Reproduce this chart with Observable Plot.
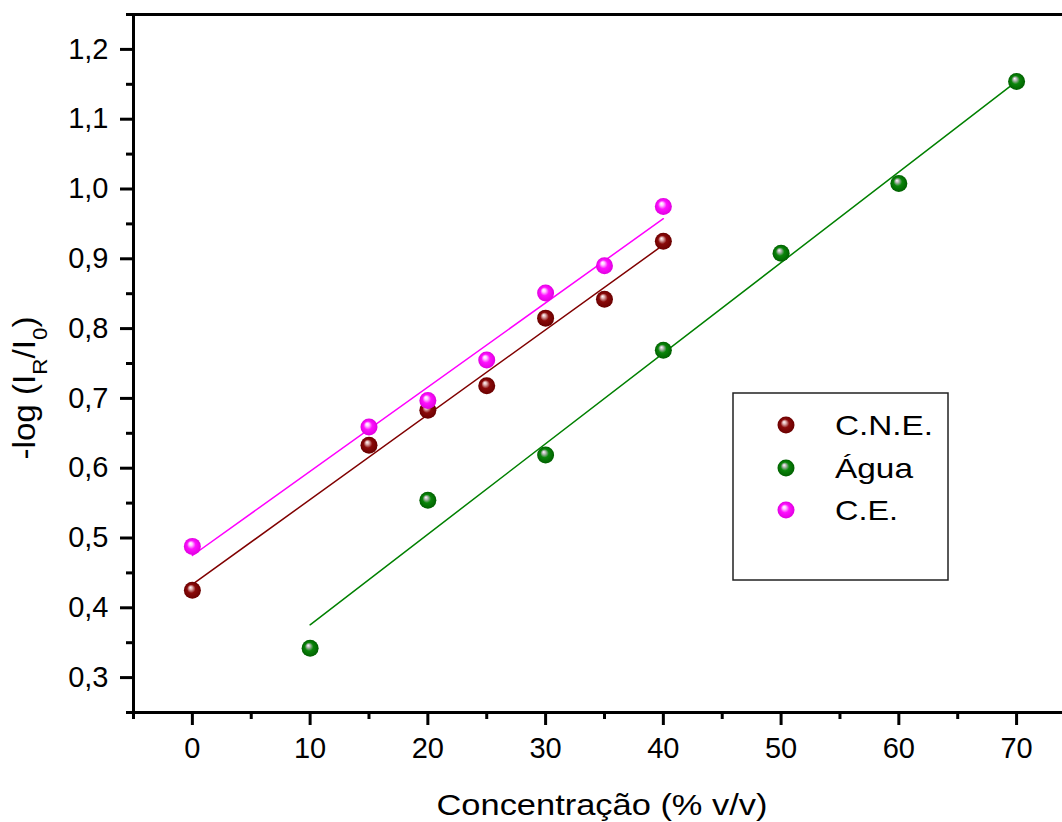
<!DOCTYPE html>
<html>
<head>
<meta charset="utf-8">
<script src="https://cdn.jsdelivr.net/npm/d3@7"></script>
<script src="https://cdn.jsdelivr.net/npm/@observablehq/plot@0.6"></script>
<style>
  html, body { margin: 0; padding: 0; background: #ffffff; }
  svg { display: block; }
</style>
</head>
<body>
<div id="chart"></div>
<script>
// ---- data ----
const seriesNames = ["C.N.E.", "Água", "C.E."];
const seriesColors = ["#800000", "#008000", "#ff00ff"];

const concCNE = [0, 15, 20, 25, 30, 35, 40];
const valCNE  = [0.425, 0.633, 0.683, 0.718, 0.815, 0.842, 0.925];

const concAgua = [10, 20, 30, 40, 50, 60, 70];
const valAgua  = [0.342, 0.554, 0.619, 0.769, 0.908, 1.008, 1.154];

const concCE = [0, 15, 20, 25, 30, 35, 40];
const valCE  = [0.488, 0.659, 0.697, 0.755, 0.851, 0.890, 0.975];

const xMajorTicks = [0, 10, 20, 30, 40, 50, 60, 70];
const xMinorTicks = [-5, 5, 15, 25, 35, 45, 55, 65];
const yMajorTicks = [0.3, 0.4, 0.5, 0.6, 0.7, 0.8, 0.9, 1.0, 1.1, 1.2];
const yMinorTicks = [0.25, 0.35, 0.45, 0.55, 0.65, 0.75, 0.85, 0.95, 1.05, 1.15, 1.25];

const xTitle = "Concentração (% v/v)";

// ---- tables ----
const tCNE  = concCNE.map((c, i) => ({c, v: valCNE[i]}));
const tAgua = concAgua.map((c, i) => ({c, v: valAgua[i]}));
const tCE   = concCE.map((c, i) => ({c, v: valCE[i]}));
const tables = [tCNE, tAgua, tCE];
const gradIds = ["gCNE", "gAgua", "gCE"];

const fmt = d => d.toFixed(1).replace(".", ",");
const FONT = "'Liberation Sans', Arial, Helvetica, sans-serif";

const marks = [
  // frame lines (top, bottom, left)
  Plot.ruleY([0.25, 1.25], {stroke: "black", strokeWidth: 3}),
  Plot.ruleX([-5], {stroke: "black", strokeWidth: 3}),
  // axes
  Plot.axisX({ticks: xMajorTicks, tickSize: 13, tickPadding: 12, strokeWidth: 3,
              fontSize: 29, tickFormat: d => String(d), label: null}),
  Plot.axisX({ticks: xMinorTicks, tickSize: 7, strokeWidth: 3, tickFormat: () => "", label: null}),
  Plot.axisY({ticks: yMajorTicks, tickSize: 13, tickPadding: 12, strokeWidth: 3,
              fontSize: 29, tickFormat: fmt, label: null}),
  Plot.axisY({ticks: yMinorTicks, tickSize: 7, strokeWidth: 3, tickFormat: () => "", label: null}),
];

// regression lines
tables.forEach((t, i) => {
  marks.push(Plot.linearRegressionY(t, {x: "c", y: "v", stroke: seriesColors[i], strokeWidth: 1.5, ci: 0}));
});
// balls
tables.forEach((t, i) => {
  marks.push(Plot.dot(t, {x: "c", y: "v", r: 8.5, fill: `url(#${gradIds[i]})`, stroke: "none"}));
});

const svgEl = Plot.plot({
  width: 1062,
  height: 822,
  marginLeft: 133,
  marginRight: 0,
  marginTop: 14,
  marginBottom: 110,
  x: {domain: [-5, 73.9]},
  y: {domain: [0.25, 1.25]},
  style: {fontFamily: FONT, color: "black", background: "white", overflow: "visible"},
  marks
});

// ---- gradients for shaded balls ----
const svg = d3.select(svgEl);
const defs = svg.insert("defs", ":first-child");
const gradSpecs = [
  {id: "gCNE",  stops: ["#ffffff", "#e0b0b0", "#8a0a0a", "#6a0000"]},
  {id: "gAgua", stops: ["#ffffff", "#b8b8b8", "#0a850a", "#006000"]},
  {id: "gCE",   stops: ["#ffffff", "#ffc8ff", "#ff10ff", "#e000e0"]}
];
gradSpecs.forEach(g => {
  const rg = defs.append("radialGradient").attr("id", g.id)
    .attr("cx", 0.5).attr("cy", 0.5).attr("r", 0.5).attr("fx", 0.38).attr("fy", 0.32);
  [0, 0.2, 0.5, 1].forEach((o, k) => rg.append("stop").attr("offset", o).attr("stop-color", g.stops[k]));
});

// ---- axis titles ----
const tg = svg.append("g").style("font-family", FONT).attr("fill", "black");
tg.append("text")
  .attr("x", 602).attr("y", 815)
  .style("font-size", "30px").style("text-anchor", "middle")
  .attr("textLength", 331).attr("lengthAdjust", "spacingAndGlyphs")
  .text(xTitle);

const yt = tg.append("text")
  .attr("transform", "translate(35,388) rotate(-90)")
  .style("font-size", "31px").style("text-anchor", "middle")
  .attr("textLength", 143).attr("lengthAdjust", "spacingAndGlyphs");
yt.append("tspan").text("-log (I");
yt.append("tspan").attr("baseline-shift", "sub").style("font-size", "21px").text("R");
yt.append("tspan").text("/I");
yt.append("tspan").attr("baseline-shift", "sub").style("font-size", "21px").text("0");
yt.append("tspan").text(")");

// ---- legend ----
const lg = svg.append("g").style("font-family", FONT);
lg.append("rect").attr("x", 733).attr("y", 393).attr("width", 215).attr("height", 187)
  .attr("fill", "white").attr("stroke", "#222").attr("stroke-width", 1.5);
const legendDotY = [425, 468, 510];
const legendBase = [435, 478, 520];
const legendLen = [98, 78, 63];
seriesNames.forEach((name, i) => {
  lg.append("circle").attr("cx", 786).attr("cy", legendDotY[i]).attr("r", 8.5).attr("fill", `url(#${gradIds[i]})`);
  lg.append("text").attr("x", 835).attr("y", legendBase[i])
    .style("font-size", "28px").style("text-anchor", "start").attr("fill", "black")
    .attr("textLength", legendLen[i]).attr("lengthAdjust", "spacingAndGlyphs")
    .text(name);
});

document.getElementById("chart").appendChild(svgEl);
</script>
</body>
</html>
